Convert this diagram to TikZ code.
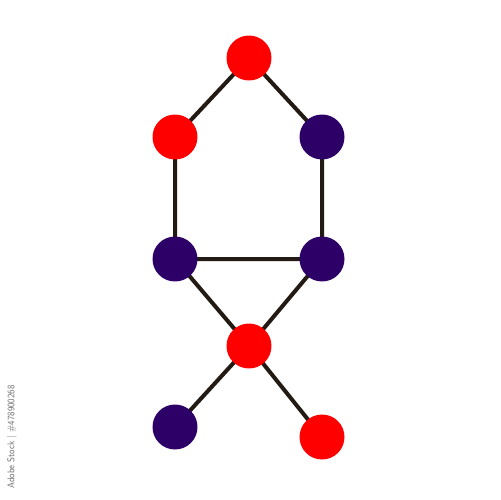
\documentclass[tikz,border=0pt]{standalone}
\usetikzlibrary{backgrounds}
\begin{document}
\begin{tikzpicture}[x=0.02cm,y=-0.02cm,
  edge/.style={draw=edgecol,line width=0.08cm},
  rednode/.style={circle,fill=nodered,minimum size=0.9cm,inner sep=0pt},
  purplenode/.style={circle,fill=nodepurple,minimum size=0.9cm,inner sep=0pt},
  wm/.style={text=black!55,font=\fontsize{5.6}{6}\sffamily,rotate=90,inner sep=0pt}]
\definecolor{nodered}{HTML}{FF0000}
\definecolor{nodepurple}{HTML}{2C0066}
\definecolor{edgecol}{HTML}{231A14}
\useasboundingbox (0,0) rectangle (500,500);
\node[rednode] (t) at (249,58) {};
\node[rednode] (lu) at (175,137) {};
\node[purplenode] (ru) at (322,137) {};
\node[purplenode] (lm) at (175,259) {};
\node[purplenode] (rm) at (322,259) {};
\node[rednode] (c) at (249,346) {};
\node[purplenode] (bl) at (175,427) {};
\node[rednode] (br) at (322,437) {};
\begin{scope}[on background layer]
\fill[white] (0,0) rectangle (500,500);
\path[edge] (t.center) -- (lu.center) (t.center) -- (ru.center)
  (lu.center) -- (lm.center) (ru.center) -- (rm.center)
  (lm.center) -- (rm.center) (lm.center) -- (c.center) (rm.center) -- (c.center)
  (c.center) -- (bl.center) (c.center) -- (br.center);
\end{scope}
\node[wm] (w) at (12,437) {\scalebox{0.85}[1]{Adobe Stock | \#478900268}};
\end{tikzpicture}
\end{document}
